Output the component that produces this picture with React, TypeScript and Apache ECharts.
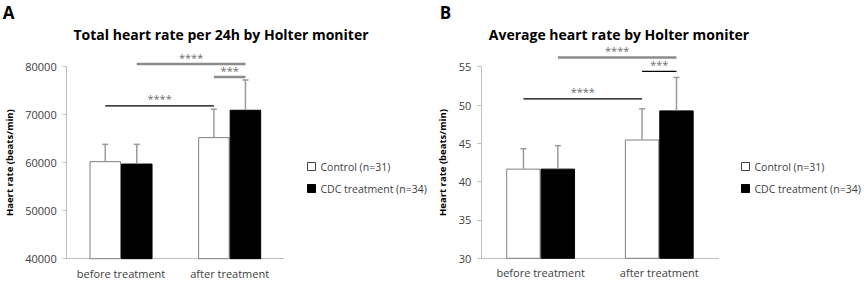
import React, { useEffect, useRef } from "react";
import * as echarts from "echarts";

// Shared categories
const categories = ["before treatment", "after treatment"];
const seriesNames = ["Control (n=31)", "CDC treatment (n=34)"];

// Panel A: total heart rate per 24h (beats)
const totalControlMean = [60300, 65300];
const totalControlSD = [3500, 5800];
const totalCdcMean = [59800, 71000];
const totalCdcSD = [4000, 6200];
const totalTicks = { min: 40000, max: 80000, interval: 10000 };
// significance brackets: [category, group] -> [category, group] at value y
const totalSig = [
  { from: [0, 1], to: [1, 1], y: 80500, stars: "****" },
  { from: [1, 0], to: [1, 1], y: 77800, stars: "***" },
  { from: [0, 0], to: [1, 0], y: 71800, stars: "****" },
];

// Panel B: average heart rate (beats/min)
const avgControlMean = [41.7, 45.5];
const avgControlSD = [2.6, 4.0];
const avgCdcMean = [41.7, 49.3];
const avgCdcSD = [3.0, 4.3];
const avgTicks = { min: 30, max: 55, interval: 5 };
const avgSig = [
  { from: [0, 1], to: [1, 1], y: 56.2, stars: "****" },
  { from: [1, 0], to: [1, 1], y: 54.4, stars: "***" },
  { from: [0, 0], to: [1, 0], y: 50.8, stars: "****" },
];

const FONT = "'Open Sans', sans-serif";
const BAR_FRAC = 0.29;
const GREY_LINE = "#8c8c8c";

function barCenter(api: any, cat: number, group: number, value: number) {
  const band = api.size([1, 0])[0];
  const p = api.coord([cat, value]);
  return p[0] + (group === 0 ? -1 : 1) * (band * BAR_FRAC) / 2;
}

function buildPanel(
  idx: number,
  controlMean: number[],
  controlSD: number[],
  cdcMean: number[],
  cdcSD: number[],
  sig: { from: number[]; to: number[]; y: number; stars: string }[],
  sigStroke: { color: string; width: number }[]
) {
  const bars = [
    {
      name: seriesNames[0],
      type: "bar",
      xAxisIndex: idx,
      yAxisIndex: idx,
      data: controlMean,
      barWidth: BAR_FRAC * 100 + "%",
      barGap: "0%",
      itemStyle: { color: "#ffffff", borderColor: "#7f7f7f", borderWidth: 1 },
      z: 2,
    },
    {
      name: seriesNames[1],
      type: "bar",
      xAxisIndex: idx,
      yAxisIndex: idx,
      data: cdcMean,
      barWidth: BAR_FRAC * 100 + "%",
      barGap: "0%",
      itemStyle: { color: "#000000", borderColor: "#000000", borderWidth: 1 },
      z: 2,
    },
  ];

  const errData: number[][] = [];
  controlMean.forEach((m, i) => errData.push([i, m, controlSD[i], 0]));
  cdcMean.forEach((m, i) => errData.push([i, m, cdcSD[i], 1]));

  const errors = {
    type: "custom",
    xAxisIndex: idx,
    yAxisIndex: idx,
    data: errData,
    encode: { x: 0, y: 1 },
    z: 3,
    silent: true,
    renderItem: (params: any, api: any) => {
      const cat = api.value(0);
      const mean = api.value(1);
      const sd = api.value(2);
      const group = api.value(3);
      const x = barCenter(api, cat, group, mean);
      const y0 = api.coord([cat, mean])[1];
      const y1 = api.coord([cat, mean + sd])[1];
      const style = { stroke: "#9a9a9a", lineWidth: 1.5 };
      return {
        type: "group",
        children: [
          { type: "line", shape: { x1: x, y1: y0, x2: x, y2: y1 }, style },
          { type: "line", shape: { x1: x - 3, y1: y1, x2: x + 3, y2: y1 }, style },
        ],
      };
    },
  };

  const brackets = {
    type: "custom",
    xAxisIndex: idx,
    yAxisIndex: idx,
    data: sig.map((s, i) => [s.from[0], s.y, i]),
    encode: { x: 0, y: 1 },
    clip: false,
    z: 4,
    silent: true,
    renderItem: (params: any, api: any) => {
      const s = sig[api.value(2)];
      const stroke = sigStroke[api.value(2)];
      const x1 = barCenter(api, s.from[0], s.from[1], s.y);
      const x2 = barCenter(api, s.to[0], s.to[1], s.y);
      const y = api.coord([s.from[0], s.y])[1];
      return {
        type: "group",
        children: [
          {
            type: "line",
            shape: { x1, y1: y, x2, y2: y },
            style: { stroke: stroke.color, lineWidth: stroke.width },
          },
          {
            type: "text",
            x: (x1 + x2) / 2,
            y: y - 7,
            style: {
              text: s.stars,
              fill: "#6e6e6e",
              font: `11px ${FONT}`,
              align: "center",
              verticalAlign: "middle",
            },
          },
        ],
      };
    },
  };

  return [...bars, errors, brackets];
}

function axisPair(idx: number, ticks: { min: number; max: number; interval: number }, yName: string) {
  const xAxis = {
    type: "category",
    gridIndex: idx,
    data: categories,
    axisLine: { lineStyle: { color: "#bfbfbf", width: 1 } },
    axisTick: { show: false },
    axisLabel: { color: "#404040", fontSize: 11, fontFamily: FONT, margin: 9, interval: 0 },
  };
  const yAxis = {
    type: "value",
    gridIndex: idx,
    min: ticks.min,
    max: ticks.max,
    interval: ticks.interval,
    name: yName,
    nameLocation: "middle",
    nameGap: idx === 0 ? 52 : 34,
    nameTextStyle: { color: "#000", fontSize: 9.5, fontWeight: "bold", fontFamily: FONT },
    axisLine: { show: true, lineStyle: { color: "#bfbfbf", width: 1 } },
    axisTick: { show: true, length: 4, lineStyle: { color: "#bfbfbf" } },
    axisLabel: {
      color: "#404040",
      fontSize: 11,
      fontFamily: FONT,
      margin: 10,
      formatter: (v: number) => String(v),
    },
    splitLine: { show: false },
  };
  return { xAxis, yAxis };
}

export default function App() {
  const ref = useRef<HTMLDivElement>(null);

  useEffect(() => {
    if (!ref.current) return;
    const chart = echarts.init(ref.current, null, { renderer: "svg" });

    const a = axisPair(0, totalTicks, "Haert rate (beats/min)");
    const b = axisPair(1, avgTicks, "Heart rate (beats/min)");

    const greyBold = { color: GREY_LINE, width: 2.5 };
    const blackThin = { color: "#000000", width: 1.3 };

    const legendBase = {
      orient: "vertical",
      itemWidth: 8,
      itemHeight: 8,
      itemGap: 9,
      icon: "rect",
      selectedMode: false,
      textStyle: { color: "#404040", fontSize: 10.5, fontFamily: FONT, lineHeight: 13 },
      data: [
        { name: seriesNames[0], itemStyle: { color: "#fff", borderColor: "#404040", borderWidth: 1 } },
        { name: seriesNames[1], itemStyle: { color: "#000", borderColor: "#000", borderWidth: 1 } },
      ],
    };

    const option: any = {
      animation: false,
      backgroundColor: "#ffffff",
      grid: [
        { left: 66.7, top: 66.5, width: 217.3, height: 192.2 },
        { left: 481.3, top: 66.7, width: 237.3, height: 191.6 },
      ],
      xAxis: [a.xAxis, b.xAxis],
      yAxis: [a.yAxis, b.yAxis],
      legend: [
        { ...legendBase, left: 302, top: 155 },
        { ...legendBase, left: 736, top: 155 },
      ],
      graphic: [
        {
          type: "text",
          x: 8.5,
          y: 12,
          style: { text: "A", font: `bold 17px ${FONT}`, fill: "#000", align: "center", verticalAlign: "middle" },
        },
        {
          type: "text",
          x: 445.5,
          y: 12,
          style: { text: "B", font: `bold 17px ${FONT}`, fill: "#000", align: "center", verticalAlign: "middle" },
        },
        {
          type: "text",
          x: 221,
          y: 34,
          style: {
            text: "Total heart rate per 24h by Holter moniter",
            font: `bold 14px ${FONT}`,
            fill: "#000",
            align: "center",
            verticalAlign: "middle",
          },
        },
        {
          type: "text",
          x: 619,
          y: 34,
          style: {
            text: "Average heart rate by Holter moniter",
            font: `bold 14px ${FONT}`,
            fill: "#000",
            align: "center",
            verticalAlign: "middle",
          },
        },
      ],
      series: [
        ...buildPanel(0, totalControlMean, totalControlSD, totalCdcMean, totalCdcSD, totalSig, [
          greyBold,
          greyBold,
          blackThin,
        ]),
        ...buildPanel(1, avgControlMean, avgControlSD, avgCdcMean, avgCdcSD, avgSig, [
          greyBold,
          blackThin,
          blackThin,
        ]),
      ],
    };

    chart.setOption(option);
    return () => chart.dispose();
  }, []);

  return (
    <div
      ref={ref}
      style={{ position: "fixed", left: 0, top: 0, width: 864, height: 293, background: "#fff" }}
    />
  );
}
